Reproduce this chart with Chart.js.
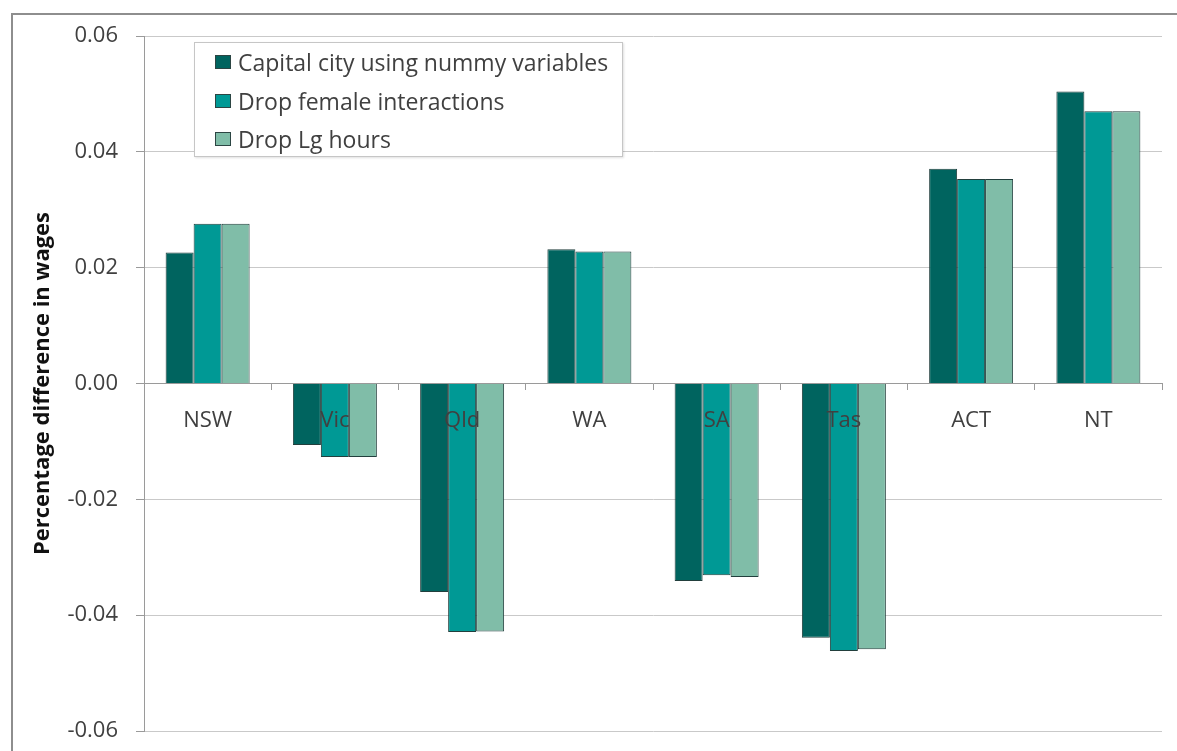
<!DOCTYPE html>
<html>
<head>
<meta charset="utf-8">
<script src="https://cdn.jsdelivr.net/npm/chart.js@4"></script>
<style>
  body { margin: 0; background: #fff; }
  #wrap { position: relative; width: 1177px; height: 751px; overflow: hidden; }
  #frame {
    position: absolute; left: 11px; top: 13px; width: 1180px; height: 760px;
    border-top: 2px solid #8e8e8e; border-left: 2px solid #8e8e8e;
  }
  #legend {
    position: absolute; left: 194px; top: 42px; width: 429px; height: 115px;
    background: #fff; border: 1px solid #c6c6c6; box-shadow: 1px 1px 2px rgba(0,0,0,.12);
    font-family: "Open Sans", sans-serif; font-size: 23px; color: #404040;
    padding-top: 0px; box-sizing: border-box;
  }
  .item { height: 38.5px; display: flex; align-items: center; padding-left: 20px; }
  .swatch { width: 16px; height: 14px; margin-right: 7px; box-sizing: border-box; border: 1px solid #2c4543; }
</style>
</head>
<body>
<div id="wrap">
  <div id="frame"></div>
  <canvas id="chart" width="1177" height="751"></canvas>
  <div id="legend"></div>
</div>
<script>
const categories = ['NSW', 'Vic', 'Qld', 'WA', 'SA', 'Tas', 'ACT', 'NT'];
const seriesNames = ['Capital city using nummy variables', 'Drop female interactions', 'Drop Lg hours'];
const capitalCity = [0.0226, -0.0106, -0.0360, 0.0232, -0.0341, -0.0439, 0.0371, 0.0504];
const dropFemale  = [0.0276, -0.0127, -0.0429, 0.0228, -0.0331, -0.0462, 0.0353, 0.0470];
const dropLgHours = [0.0276, -0.0127, -0.0428, 0.0228, -0.0334, -0.0459, 0.0353, 0.0470];
const yTicks = [-0.06, -0.04, -0.02, 0.00, 0.02, 0.04, 0.06];

const COLORS = ['#00645f', '#009995', '#80bda8'];
const TEXT = '#404040';
const GRID = '#c9c9c9';

const datasets = [capitalCity, dropFemale, dropLgHours].map((values, i) => ({
  label: seriesNames[i],
  data: values,
  backgroundColor: COLORS[i],
  borderColor: '#223f3d',
  borderWidth: 1,
  categoryPercentage: 0.66,
  barPercentage: 1.0
}));

new Chart(document.getElementById('chart'), {
  type: 'bar',
  data: { labels: categories, datasets },
  options: {
    responsive: false,
    animation: false,
    // fixed plot box: 144..1162 x 36..731
    layout: { padding: { top: 36, right: 15, bottom: 20, left: 26 } },
    plugins: { legend: { display: false }, tooltip: { enabled: false } },
    scales: {
      x: {
        position: { y: 0 },
        // axis sits at zero inside the plot, so it takes no layout space
        afterFit: scale => { scale.height = 0; },
        grid: { display: true, drawOnChartArea: false, tickLength: 6, color: '#9a9a9a', offset: true },
        border: { display: true, color: '#9a9a9a', width: 1 },
        // labels sit on top of the negative bars, like the original
        ticks: { z: 1, color: TEXT, padding: 18, font: { family: 'Open Sans', size: 22 } }
      },
      y: {
        min: -0.06,
        max: 0.06,
        afterBuildTicks: scale => { scale.ticks = yTicks.map(v => ({ value: v })); },
        afterFit: scale => {
          scale.width = 118;
          // tick padding would otherwise push the plot bottom up
          scale.paddingTop = 14;
          scale.paddingBottom = 14;
        },
        grid: { color: GRID, tickLength: 8, tickColor: '#9a9a9a' },
        border: { display: true, color: '#9a9a9a' },
        ticks: {
          color: TEXT, padding: 18, font: { family: 'Open Sans', size: 22 },
          callback: v => (Math.abs(v) < 1e-9 ? 0 : v).toFixed(2)
        },
        title: {
          display: true,
          text: 'Percentage difference in wages',
          color: '#111',
          font: { family: 'Open Sans', size: 22, weight: 'bold' },
          padding: { top: 4, bottom: 0 }
        }
      }
    }
  }
});

// legend box drawn as html over the chart area
const legendEl = document.getElementById('legend');
seriesNames.forEach((name, i) => {
  const row = document.createElement('div');
  row.className = 'item';
  const sw = document.createElement('span');
  sw.className = 'swatch';
  sw.style.background = COLORS[i];
  const txt = document.createElement('span');
  txt.textContent = name;
  row.appendChild(sw);
  row.appendChild(txt);
  legendEl.appendChild(row);
});
</script>
</body>
</html>
